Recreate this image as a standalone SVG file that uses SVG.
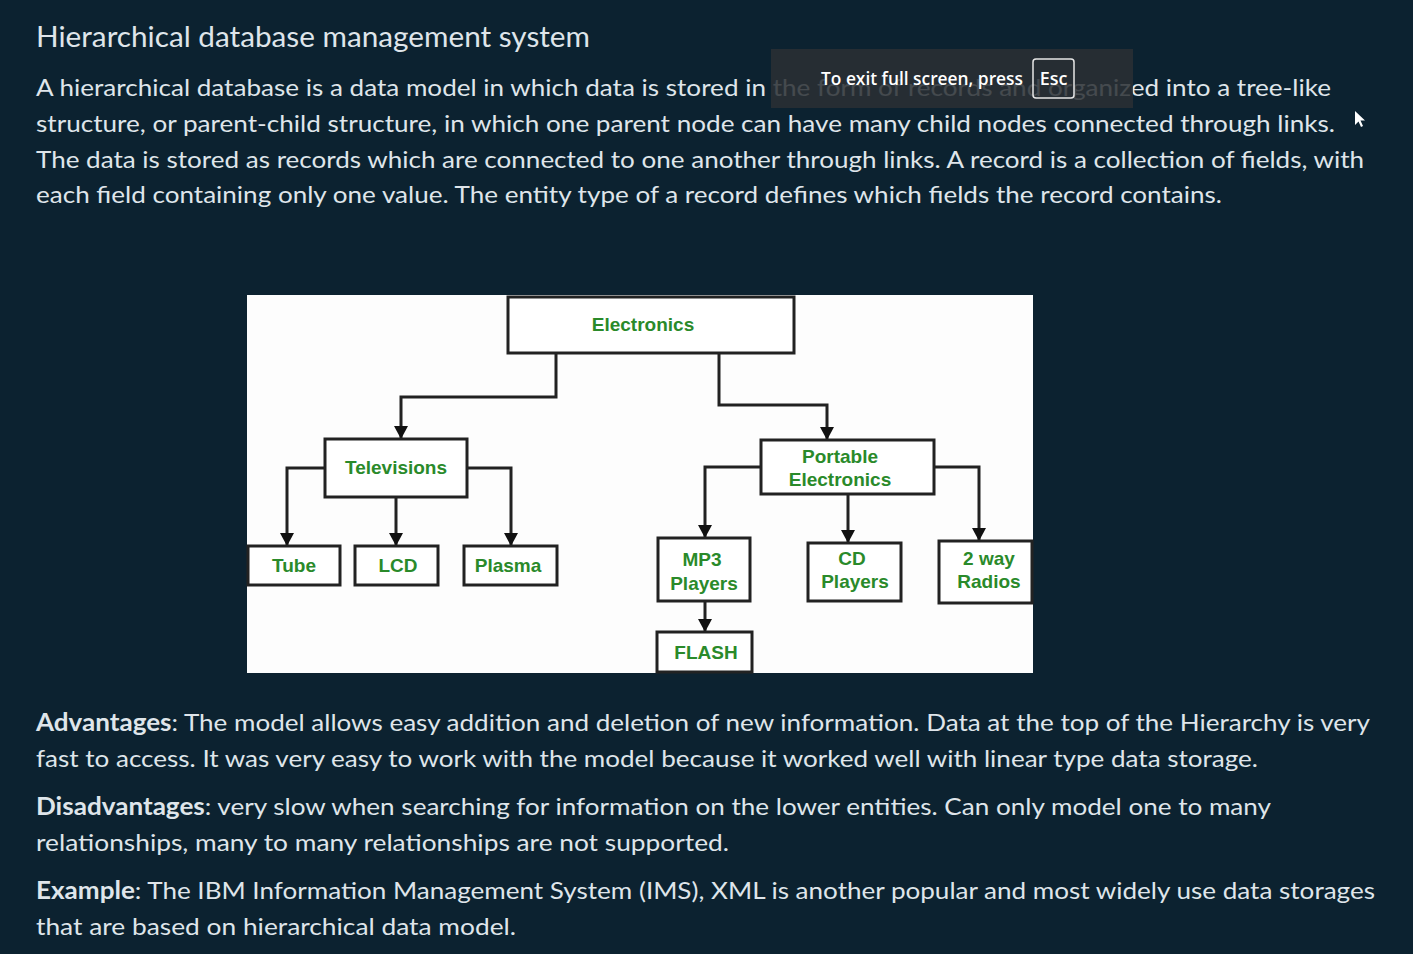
<svg xmlns="http://www.w3.org/2000/svg" width="1413" height="954" viewBox="0 0 1413 954">
<defs>
<style>
.bg{fill:#0c2230}
.t{font-family:Lato,"Open Sans","Liberation Sans",sans-serif;fill:#dfe5ea;font-size:24px}
.h{font-size:28px}
.b{font-weight:bold}
.node rect{fill:#ffffff;stroke:#222222;stroke-width:3}
.node text{font-family:"Liberation Sans",Arial,sans-serif;font-weight:bold;font-size:19px;fill:#2a8a2a;text-anchor:middle}
.conn path{fill:none;stroke:#222222;stroke-width:3}
.ov{font-family:"Open Sans","Noto Sans","Liberation Sans",sans-serif;font-weight:600;font-size:18px;fill:#ffffff}
</style>
<marker id="arr" markerUnits="userSpaceOnUse" markerWidth="14" markerHeight="14" viewBox="0 0 14 14" refX="13" refY="7" orient="auto">
<path d="M0,0 L13,7 L0,14 Z" fill="#111111"/>
</marker>
</defs>
<rect class="bg" x="0" y="0" width="1413" height="954"/>

<text class="t h" x="36" y="47" textLength="554" lengthAdjust="spacingAndGlyphs">Hierarchical database management system</text>
<text class="t" x="36" y="96" textLength="1295" lengthAdjust="spacingAndGlyphs">A hierarchical database is a data model in which data is stored in the form of records and organized into a tree-like</text>
<text class="t" x="36" y="132" textLength="1299" lengthAdjust="spacingAndGlyphs">structure, or parent-child structure, in which one parent node can have many child nodes connected through links.</text>
<text class="t" x="36" y="168" textLength="1328" lengthAdjust="spacingAndGlyphs">The data is stored as records which are connected to one another through links. A record is a collection of fields, with</text>
<text class="t" x="36" y="203" textLength="1186" lengthAdjust="spacingAndGlyphs">each field containing only one value. The entity type of a record defines which fields the record contains.</text>

<g id="fullscreen-notice">
<rect x="771" y="49" width="362" height="59" fill="#2b3034" opacity="0.86"/>
<text class="ov" x="821" y="85" textLength="202" lengthAdjust="spacingAndGlyphs">To exit full screen, press</text>
<rect x="1033" y="59" width="41" height="39" rx="3" fill="none" stroke="#e6e6e6" stroke-width="1.5"/>
<text class="ov" x="1053.5" y="85" text-anchor="middle">Esc</text>
</g>
<path d="M1355,111 L1355,125 L1358.5,121.5 L1361,127 L1363,126 L1360.5,120.5 L1365,120.5 Z" fill="#ffffff"/>

<rect x="247" y="295" width="786" height="378" fill="#fdfdfd"/>

<g class="conn" id="connectors">
<path d="M556,353 V397 H401 V439" marker-end="url(#arr)"/>
<path d="M719,353 V405 H827 V440" marker-end="url(#arr)"/>
<path d="M325,468 H287 V546" marker-end="url(#arr)"/>
<path d="M396,497 V546" marker-end="url(#arr)"/>
<path d="M467,468 H511 V546" marker-end="url(#arr)"/>
<path d="M761,467 H705 V538" marker-end="url(#arr)"/>
<path d="M848,494 V543" marker-end="url(#arr)"/>
<path d="M934,467 H979 V541" marker-end="url(#arr)"/>
<path d="M705,601 V632" marker-end="url(#arr)"/>
</g>

<g class="node" id="n-electronics"><rect x="508" y="297" width="286" height="56"/><text x="643" y="331">Electronics</text></g>
<g class="node" id="n-televisions"><rect x="325" y="439" width="142" height="58"/><text x="396" y="474">Televisions</text></g>
<g class="node" id="n-tube"><rect x="248" y="546" width="92" height="39"/><text x="294" y="572">Tube</text></g>
<g class="node" id="n-lcd"><rect x="355" y="546" width="83" height="39"/><text x="398" y="572">LCD</text></g>
<g class="node" id="n-plasma"><rect x="464" y="546" width="93" height="39"/><text x="508" y="572">Plasma</text></g>
<g class="node" id="n-portable"><rect x="761" y="440" width="173" height="54"/><text x="840" y="463">Portable</text><text x="840" y="486">Electronics</text></g>
<g class="node" id="n-mp3"><rect x="658" y="538" width="92" height="63"/><text x="702" y="566">MP3</text><text x="704" y="590">Players</text></g>
<g class="node" id="n-cd"><rect x="808" y="543" width="93" height="58"/><text x="852" y="565">CD</text><text x="855" y="588">Players</text></g>
<g class="node" id="n-radios"><rect x="939" y="541" width="93" height="62"/><text x="989" y="565">2 way</text><text x="989" y="588">Radios</text></g>
<g class="node" id="n-flash"><rect x="657" y="632" width="95" height="40"/><text x="706" y="659">FLASH</text></g>

<text class="t" x="36" y="731" textLength="1334" lengthAdjust="spacingAndGlyphs"><tspan class="b">Advantages</tspan>: The model allows easy addition and deletion of new information. Data at the top of the Hierarchy is very</text>
<text class="t" x="36" y="767" textLength="1222" lengthAdjust="spacingAndGlyphs">fast to access. It was very easy to work with the model because it worked well with linear type data storage.</text>
<text class="t" x="36" y="815" textLength="1235" lengthAdjust="spacingAndGlyphs"><tspan class="b">Disadvantages</tspan>: very slow when searching for information on the lower entities. Can only model one to many</text>
<text class="t" x="36" y="851" textLength="693" lengthAdjust="spacingAndGlyphs">relationships, many to many relationships are not supported.</text>
<text class="t" x="36" y="899" textLength="1339" lengthAdjust="spacingAndGlyphs"><tspan class="b">Example</tspan>: The IBM Information Management System (IMS), XML is another popular and most widely use data storages</text>
<text class="t" x="36" y="935" textLength="480" lengthAdjust="spacingAndGlyphs">that are based on hierarchical data model.</text>
</svg>
